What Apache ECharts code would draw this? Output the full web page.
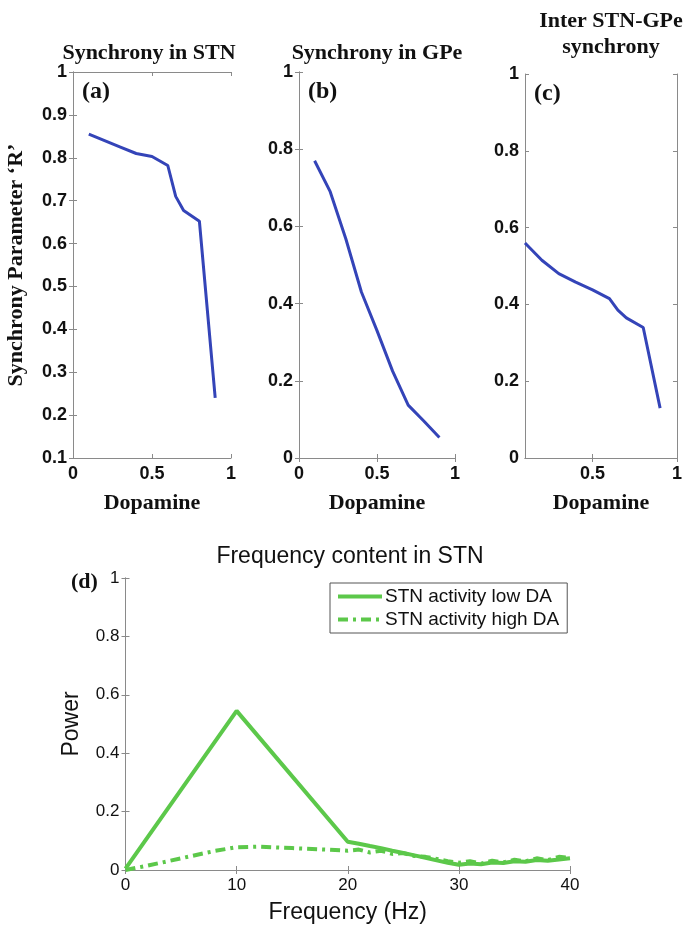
<!DOCTYPE html>
<html>
<head>
<meta charset="utf-8">
<script src="https://cdn.jsdelivr.net/npm/echarts@6/dist/echarts.min.js"></script>
<style>
  html, body { margin: 0; padding: 0; background: #fff; }
  #chart { width: 685px; height: 929px; }
</style>
</head>
<body>
<div id="chart"></div>
<script>
// panel (a) synchrony in STN
const dopamineA = [0.1, 0.2, 0.3, 0.4, 0.5, 0.6, 0.65, 0.7, 0.8, 0.9];
const syncSTN = [0.855, 0.84, 0.825, 0.81, 0.803, 0.782, 0.71, 0.677, 0.652, 0.24];
// panel (b) synchrony in GPe
const dopamineB = [0.1, 0.2, 0.3, 0.4, 0.5, 0.6, 0.7, 0.8, 0.9];
const syncGPe = [0.77, 0.69, 0.568, 0.43, 0.33, 0.225, 0.137, 0.096, 0.053];
// panel (c) inter STN-GPe synchrony
const dopamineC = [0.1, 0.2, 0.3, 0.4, 0.5, 0.6, 0.65, 0.7, 0.8, 0.9];
const syncInter = [0.56, 0.515, 0.48, 0.458, 0.438, 0.415, 0.385, 0.365, 0.34, 0.13];
// panel (d) frequency content
const freqLow = [0, 10, 20, 21, 22, 23, 24, 25, 26, 27, 28, 29, 30, 31, 32, 33, 34, 35, 36, 37, 38, 39, 40];
const powerLow = [0.005, 0.545, 0.097, 0.09, 0.082, 0.075, 0.066, 0.058, 0.05, 0.042, 0.033, 0.025, 0.018,
  0.022, 0.02, 0.026, 0.024, 0.03, 0.028, 0.034, 0.032, 0.036, 0.04];
const freqHigh = [0, 2, 5, 8, 10, 12, 15, 18, 20, 21, 22, 23, 24, 25, 26, 27, 28, 29, 30, 31, 32, 33, 34, 35, 36, 37, 38, 39, 40];
const powerHigh = [0, 0.015, 0.04, 0.065, 0.078, 0.08, 0.075, 0.07, 0.066, 0.07, 0.06, 0.066, 0.055, 0.058, 0.048,
  0.045, 0.038, 0.03, 0.025, 0.03, 0.022, 0.032, 0.026, 0.035, 0.03, 0.04, 0.034, 0.045, 0.042];

const blue = '#3444b8';
const green = '#5cc84a';
const axisGray = '#8a8a8a';
const serif = '"Liberation Serif", "DejaVu Serif", serif';
const sans = '"Liberation Sans", Arial, sans-serif';

const zip = (xs, ys) => xs.map((x, i) => [x, ys[i]]);

const chart = echarts.init(document.getElementById('chart'));

// one box-style panel: bottom/left axes with labels, top/right axes with ticks only
function boxAxes(gridIndex, x, y, labelFont, labelWeight, labelSize) {
  const line = { show: true, lineStyle: { color: axisGray, width: 1 } };
  const tick = { show: true, inside: true, length: 4, lineStyle: { color: axisGray } };
  const xa = Object.assign({
    type: 'value', gridIndex: gridIndex, position: 'bottom',
    axisLine: line, axisTick: Object.assign({}, tick), splitLine: { show: false },
    axisLabel: { color: '#111', fontFamily: labelFont, fontSize: labelSize, fontWeight: labelWeight, margin: 7 }
  }, x);
  const ya = Object.assign({
    type: 'value', gridIndex: gridIndex, position: 'left',
    axisLine: line, axisTick: Object.assign({}, tick), splitLine: { show: false },
    axisLabel: { color: '#111', fontFamily: labelFont, fontSize: labelSize, fontWeight: labelWeight, margin: 6 }
  }, y);
  const xTop = Object.assign({}, xa, { position: 'top', name: '', axisLabel: { show: false } });
  const yRight = Object.assign({}, ya, { position: 'right', name: '', axisLabel: { show: false } });
  if (x.axisTick) xTop.axisTick = Object.assign({}, tick, x.axisTick);
  return { x: [xa, xTop], y: [ya, yRight] };
}

const dopName = {
  name: 'Dopamine', nameLocation: 'middle', nameGap: 34,
  nameTextStyle: { fontFamily: serif, fontWeight: 'bold', fontSize: 22, color: '#111' }
};

const pa = boxAxes(0,
  Object.assign({ min: 0, max: 1, interval: 0.5 }, dopName),
  { min: 0.1, max: 1, interval: 0.1, name: 'Synchrony Parameter \u2018R\u2019', nameLocation: 'middle', nameGap: 46,
    nameTextStyle: { fontFamily: serif, fontWeight: 'bold', fontSize: 22, color: '#111' } },
  sans, 'bold', 18);
const pb = boxAxes(1,
  Object.assign({ min: 0, max: 1, interval: 0.5 }, dopName),
  { min: 0, max: 1, interval: 0.2 },
  sans, 'bold', 18);
const pc = boxAxes(2,
  Object.assign({ min: 0.1, max: 1,
    axisLabel: { color: '#111', fontFamily: sans, fontSize: 18, fontWeight: 'bold', margin: 7, customValues: [0.5, 1] },
    axisTick: { show: true, inside: true, length: 4, lineStyle: { color: axisGray }, customValues: [0.5, 1] }
  }, dopName),
  { min: 0, max: 1, interval: 0.2 },
  sans, 'bold', 18);
const pd = boxAxes(3,
  { min: 0, max: 40, interval: 10, name: 'Frequency (Hz)', nameLocation: 'middle', nameGap: 31,
    nameTextStyle: { fontFamily: sans, fontSize: 23, color: '#111' } },
  { min: 0, max: 1, interval: 0.2, name: 'Power', nameLocation: 'middle', nameGap: 42,
    nameTextStyle: { fontFamily: sans, fontSize: 23, color: '#111' } },
  sans, 'normal', 17);

const xAxes = [].concat(pa.x, pb.x, pc.x, pd.x);
const yAxes = [].concat(pa.y, pb.y, pc.y, pd.y);

const serifTitle = { fontFamily: serif, fontWeight: 'bold', fontSize: 22, color: '#111' };

const option = {
  backgroundColor: '#fff',
  animation: false,
  title: [
    { text: 'Synchrony in STN', left: 144, top: 37, textAlign: 'center', textStyle: serifTitle },
    { text: 'Synchrony in GPe', left: 372, top: 37, textAlign: 'center', textStyle: serifTitle },
    { text: 'Inter STN-GPe\nsynchrony', left: 606, top: 3, textAlign: 'center',
      textStyle: Object.assign({ lineHeight: 26 }, serifTitle) },
    { text: '(a)', left: 77, top: 75, textStyle: Object.assign({}, serifTitle, { fontSize: 24 }) },
    { text: '(b)', left: 303, top: 75, textStyle: Object.assign({}, serifTitle, { fontSize: 24 }) },
    { text: '(c)', left: 529, top: 77, textStyle: Object.assign({}, serifTitle, { fontSize: 24 }) },
    { text: '(d)', left: 66, top: 566, textStyle: Object.assign({}, serifTitle, { fontSize: 22 }) },
    { text: 'Frequency content in STN', left: 345, top: 540, textAlign: 'center',
      textStyle: { fontFamily: sans, fontSize: 23, fontWeight: 'normal', color: '#111' } }
  ],
  legend: {
    data: ['STN activity low DA', 'STN activity high DA'],
    orient: 'vertical', left: 330, top: 583,
    itemWidth: 44, itemHeight: 10, itemGap: 4,
    padding: [4, 8, 4, 6],
    itemStyle: { opacity: 0 },
    lineStyle: { width: 4 },
    borderColor: '#555', borderWidth: 1, backgroundColor: '#fff',
    textStyle: { fontFamily: sans, fontSize: 19, color: '#111', padding: [0, 0, 0, -2] }
  },
  grid: [
    { left: 73, top: 72, width: 158, height: 386 },
    { left: 299, top: 72, width: 156, height: 386 },
    { left: 525, top: 74, width: 158, height: 384 },
    { left: 125.5, top: 578, width: 444.5, height: 292 }
  ],
  xAxis: xAxes,
  yAxis: yAxes,
  series: [
    { type: 'line', xAxisIndex: 0, yAxisIndex: 0, data: zip(dopamineA, syncSTN), symbol: 'none',
      lineStyle: { color: blue, width: 3 } },
    { type: 'line', xAxisIndex: 2, yAxisIndex: 2, data: zip(dopamineB, syncGPe), symbol: 'none',
      lineStyle: { color: blue, width: 3 } },
    { type: 'line', xAxisIndex: 4, yAxisIndex: 4, data: zip(dopamineC, syncInter), symbol: 'none',
      lineStyle: { color: blue, width: 3 } },
    { name: 'STN activity low DA', type: 'line', xAxisIndex: 6, yAxisIndex: 6, data: zip(freqLow, powerLow),
      symbol: 'none', itemStyle: { color: green }, lineStyle: { color: green, width: 4 } },
    { name: 'STN activity high DA', type: 'line', xAxisIndex: 6, yAxisIndex: 6, data: zip(freqHigh, powerHigh),
      symbol: 'none', itemStyle: { color: green }, lineStyle: { color: green, width: 4, type: [10, 5, 3, 5] } }
  ]
};

chart.setOption(option);
</script>
</body>
</html>
